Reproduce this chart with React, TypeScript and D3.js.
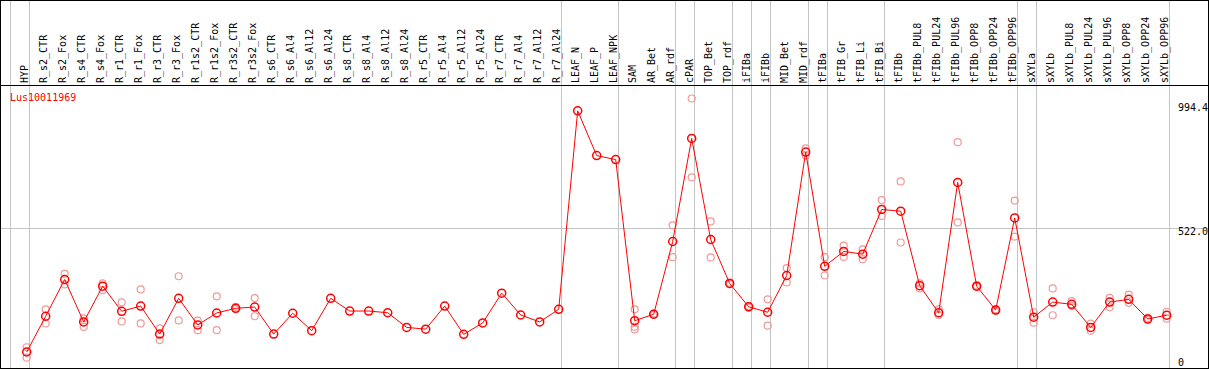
import { useEffect, useRef } from "react";
import * as d3 from "d3";

const categories = [
  "HYP", "R_s2_CTR", "R_s2_Fox", "R_s4_CTR", "R_s4_Fox", "R_r1_CTR", "R_r1_Fox",
  "R_r3_CTR", "R_r3_Fox", "R_r1s2_CTR", "R_r1s2_Fox", "R_r3s2_CTR", "R_r3s2_Fox",
  "R_s6_CTR", "R_s6_Al4", "R_s6_Al12", "R_s6_Al24", "R_s8_CTR", "R_s8_Al4",
  "R_s8_Al12", "R_s8_Al24", "R_r5_CTR", "R_r5_Al4", "R_r5_Al12", "R_r5_Al24",
  "R_r7_CTR", "R_r7_Al4", "R_r7_Al12", "R_r7_Al24", "LEAF_N", "LEAF_P", "LEAF_NPK",
  "SAM", "AR_Bet", "AR_rdf", "cPAR", "TOP_Bet", "TOP_rdf", "iFIBa", "iFIBb",
  "MID_Bet", "MID_rdf", "tFIBa", "tFIB_Gr", "tFIB_Li", "tFIB_Bi", "tFIBb",
  "tFIBb_PUL8", "tFIBb_PUL24", "tFIBb_PUL96", "tFIBb_OPP8", "tFIBb_OPP24", "tFIBb_OPP96",
  "sXYLa", "sXYLb", "sXYLb_PUL8", "sXYLb_PUL24", "sXYLb_PUL96", "sXYLb_OPP8",
  "sXYLb_OPP24", "sXYLb_OPP96",
];

// mean expression per sample
const means = [
  23, 167, 315, 144, 288, 187, 208, 95, 239, 132, 180, 199, 204,
  95, 179, 109, 239, 188, 188, 181, 122, 115, 208, 94, 140,
  260, 172, 144, 195, 994.4, 814, 798,
  149, 175, 468, 883, 476, 299, 205, 183,
  331, 828, 368, 428, 417, 597, 590,
  290, 181, 706, 288, 192, 563,
  163, 224, 215, 122, 224, 235, 156, 171,
];

// individual replicates
const replicates = [
  [42, 0], [195, 138], [338, 295], [158, 124], [299, 272], [223, 146], [275, 138],
  [118, 71], [328, 150], [149, 111], [247, 111], [205, 196], [240, 167],
  [], [], [], [], [], [], [], [], [], [], [], [],
  [], [], [], [], [], [], [],
  [195, 125, 114], [178, 172], [533, 405], [1044, 726], [549, 404], [302, 296], [208, 202], [235, 129],
  [361, 303], [843, 814], [405, 331], [451, 406], [436, 397], [635, 571], [710, 464],
  [299, 279], [195, 172], [868, 545], [291, 285], [195, 189], [633, 488],
  [183, 141], [279, 171], [228, 208], [137, 109], [241, 203], [254, 221], [160, 152], [185, 157],
];

// group separators are drawn before these samples
const groupStarts = [
  "HYP", "R_s2_CTR", "LEAF_N", "SAM", "cPAR", "TOP_Bet", "iFIBa", "iFIBb",
  "MID_Bet", "tFIBa", "tFIB_Gr", "tFIBb", "sXYLa", "sXYLb",
];

const yTicks = [994.4, 522.0, 0];
const geneName = "Lus10011969";

const W = 1209;
const H = 370;

export default function App() {
  const svgRef = useRef<SVGSVGElement>(null);

  useEffect(() => {
    document.body.style.margin = "0";
    if (!svgRef.current) return;
    const svg = d3.select(svgRef.current);
    svg.selectAll("*").remove();

    const font = "'DejaVu Sans Mono', monospace";
    const headerY = 85.5;

    const x = d3.scaleBand().domain(categories).range([11, 11 + 19 * categories.length]);
    const px = (c: string) => x(c)! + 15.7;
    const y = d3.scaleLinear().domain([0, 994.4]).range([357.7, 110.8]);

    // frame
    svg.append("rect")
      .attr("x", 0.5).attr("y", 0.5)
      .attr("width", W - 1).attr("height", H - 2)
      .attr("fill", "#fff").attr("stroke", "#000");

    // gray reference line
    svg.append("line")
      .attr("x1", 1).attr("x2", W - 1)
      .attr("y1", Math.round(y(522)) + 0.5).attr("y2", Math.round(y(522)) + 0.5)
      .attr("stroke", "#c4c4c4");

    // group separators
    const seps = groupStarts.map((c) => x(c)!);
    seps.push(x(categories[categories.length - 1])! + x.bandwidth());
    svg.selectAll("line.sep")
      .data(seps)
      .join("line")
      .attr("class", "sep")
      .attr("x1", (d) => Math.round(d) - 0.5).attr("x2", (d) => Math.round(d) - 0.5)
      .attr("y1", 1).attr("y2", H - 2)
      .attr("stroke", "#c4c4c4");

    // header line
    svg.append("line")
      .attr("x1", 0).attr("x2", W)
      .attr("y1", headerY).attr("y2", headerY)
      .attr("stroke", "#000");

    // sample labels
    svg.selectAll("text.cat")
      .data(categories)
      .join("text")
      .attr("class", "cat")
      .attr("transform", (d) => `translate(${x(d)! + 17.3},83) rotate(-90)`)
      .attr("font-family", font)
      .attr("font-size", "10px")
      .attr("fill", "#000")
      .text((d) => d);

    // value labels on the right
    const tickOffset = [0, 7, 8.5];
    svg.selectAll("text.tick")
      .data(yTicks)
      .join("text")
      .attr("class", "tick")
      .attr("x", 1178)
      .attr("y", (d, i) => y(d) + tickOffset[i])
      .attr("font-family", font)
      .attr("font-size", "10px")
      .attr("fill", "#000")
      .text((d) => (d === 0 ? "0" : d.toFixed(1)));

    svg.append("text")
      .attr("x", 10).attr("y", 100.5)
      .attr("font-family", font)
      .attr("font-size", "10px")
      .attr("fill", "#f00")
      .text(geneName);

    // replicate points
    const reps = categories.flatMap((c, i) => replicates[i].map((v) => ({ c, v })));
    svg.selectAll("circle.rep")
      .data(reps)
      .join("circle")
      .attr("class", "rep")
      .attr("cx", (d) => px(d.c))
      .attr("cy", (d) => y(d.v))
      .attr("r", 3.5)
      .attr("fill", "none")
      .attr("stroke", "#ef9a9a")
      .attr("stroke-width", 1.2);

    // mean line
    const line = d3.line<number>()
      .x((_, i) => px(categories[i]))
      .y((d) => y(d));
    svg.append("path")
      .attr("d", line(means))
      .attr("fill", "none")
      .attr("stroke", "#f00")
      .attr("stroke-width", 1);

    svg.selectAll("circle.mean")
      .data(means)
      .join("circle")
      .attr("class", "mean")
      .attr("cx", (_, i) => px(categories[i]))
      .attr("cy", (d) => y(d))
      .attr("r", 4)
      .attr("fill", "none")
      .attr("stroke", "#f00")
      .attr("stroke-width", 1.5);
  }, []);

  return <svg ref={svgRef} width={W} height={H} style={{ display: "block" }} />;
}
